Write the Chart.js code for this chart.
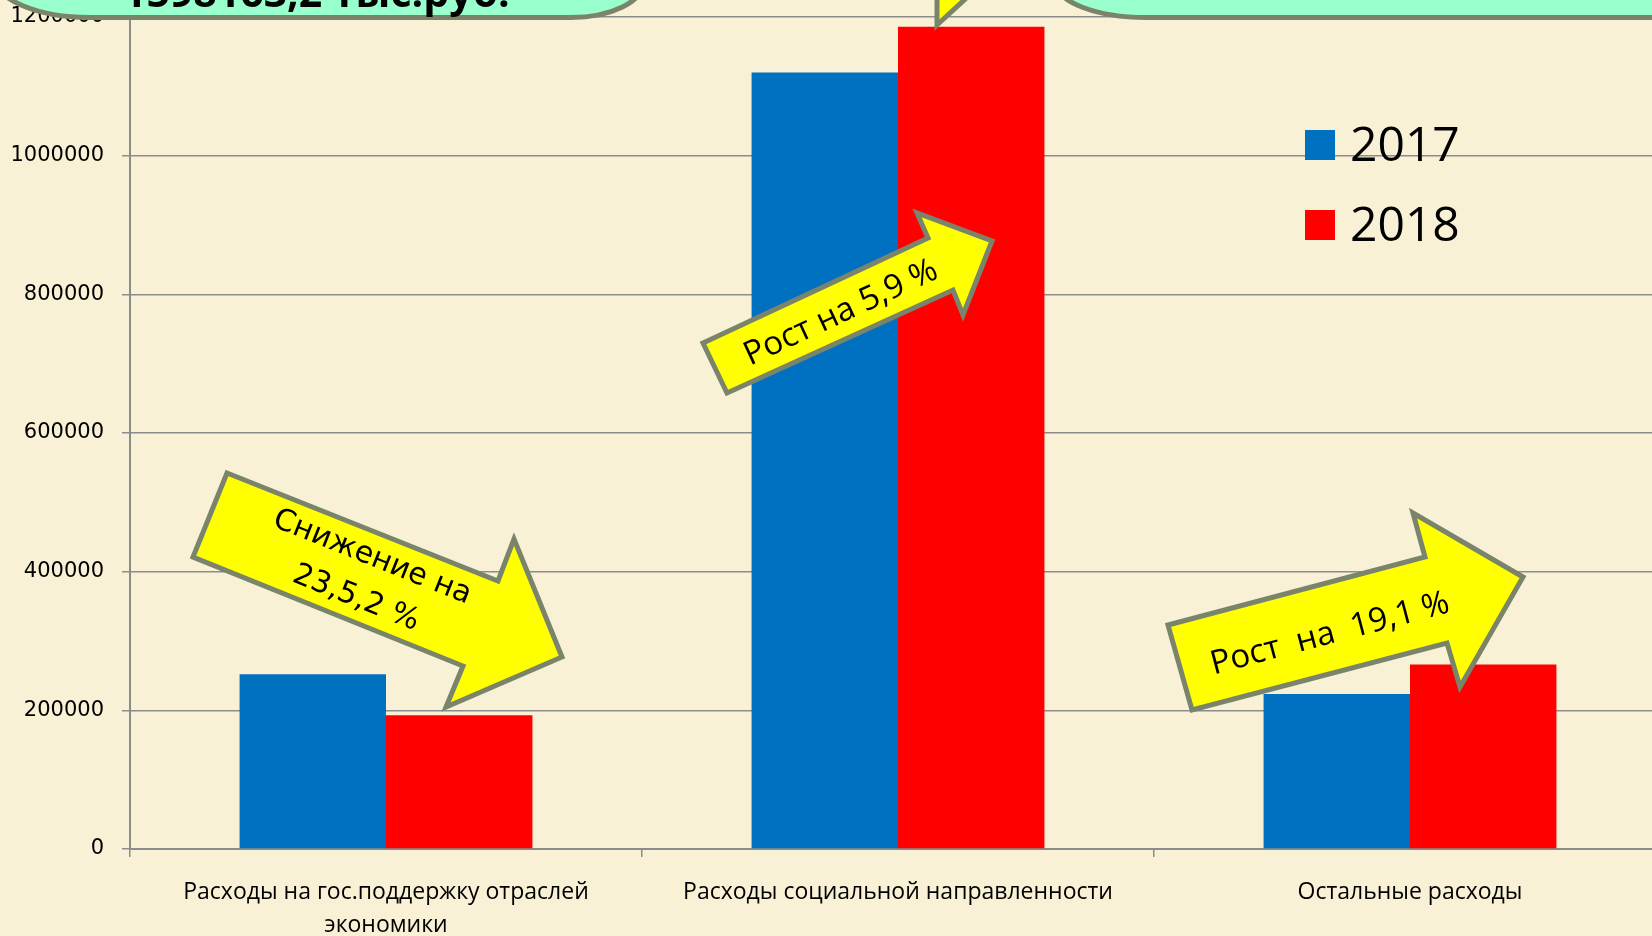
<!DOCTYPE html>
<html><head><meta charset="utf-8">
<script src="https://cdn.jsdelivr.net/npm/chart.js@4.4.0/dist/chart.umd.min.js"></script>
<style>
html,body{margin:0;padding:0;overflow:hidden;background:#f9f1d6;}
#wrap{position:absolute;left:0;top:0;width:1680px;height:936px;}
</style></head><body>
<div id="wrap"><canvas id="c" width="1680" height="936" style="width:1680px;height:936px"></canvas></div>
<script>
// ---- data ----
const categories = [["Расходы на гос.поддержку отраслей", "экономики"], "Расходы социальной направленности", "Остальные расходы"];
const seriesNames = ["2017", "2018"];
const values2017 = [252000, 1120000, 223500];
const values2018 = [192800, 1186000, 266200];
const yTickMin = 0, yTickMax = 1200000, yTickStep = 200000;
const arrowTexts = [["Снижение на", "23,5,2 %"], ["Рост на 5,9 %"], ["Рост  на  19,1 %"]];
const calloutText = "1598163,2 тыс.руб.";

// ---- styles ----
const BG = '#f9f1d6', GRID = '#8c8c8c', BLUE = '#0070c0', RED = '#ff0000';
const ARROW_FILL = '#ffff00', OUTLINE = '#7a846b', BOX_FILL = '#99ffcc';

const bgPlugin = {
  id: 'bg',
  beforeDraw(chart) {
    const ctx = chart.ctx;
    ctx.save(); ctx.fillStyle = BG; ctx.fillRect(0, 0, chart.width, chart.height); ctx.restore();
  }
};

function poly(ctx, pts) {
  ctx.beginPath();
  ctx.moveTo(pts[0][0], pts[0][1]);
  for (let i = 1; i < pts.length; i++) ctx.lineTo(pts[i][0], pts[i][1]);
  ctx.closePath();
  ctx.fillStyle = ARROW_FILL; ctx.fill();
  ctx.lineWidth = 5; ctx.strokeStyle = OUTLINE; ctx.lineJoin = 'miter'; ctx.stroke();
}
function rotText(ctx, lines, cx, cy, deg, font, lh) {
  ctx.save();
  ctx.translate(cx, cy); ctx.rotate(deg * Math.PI / 180);
  ctx.font = font; ctx.fillStyle = '#000'; ctx.textAlign = 'center'; ctx.textBaseline = 'middle';
  const n = lines.length;
  lines.forEach((t, i) => ctx.fillText(t, 0, (i - (n - 1) / 2) * lh));
  ctx.restore();
}

const arrowsPlugin = {
  id: 'arrows',
  afterDatasetsDraw(chart) {
    const ctx = chart.ctx;
    ctx.save();
    poly(ctx, [[227,473],[498,581],[514,539],[562,657],[446,707],[463,666],[193,557]]);
    rotText(ctx, arrowTexts[0], 364, 578, 21.8, '30px "DejaVu Sans"', 44);
    poly(ctx, [[703,343],[928,238],[917,213],[992,241],[963,315],[953,290],[727,393]]);
    rotText(ctx, arrowTexts[1], 841, 313, -25, '33px "Open Sans"', 40);
    poly(ctx, [[1168,625],[1425,557],[1413,513],[1523,577],[1460,687],[1447,643],[1192,710]]);
    rotText(ctx, arrowTexts[2], 1330, 634, -14.8, '33px "Open Sans"', 40);
    ctx.restore();
  },
  afterDraw(chart) {
    const ctx = chart.ctx;
    ctx.save();
    poly(ctx, [[937,25],[999,-32],[937,-32]]);
    // left callout box
    ctx.beginPath();
    ctx.moveTo(-20, -80);
    ctx.lineTo(-5, -22.5);
    ctx.ellipse(90, -22.5, 95, 40, 0, Math.PI, Math.PI / 2, true);
    ctx.lineTo(571, 17.5);
    ctx.ellipse(571, -17.5, 72, 35, 0, Math.PI / 2, 0, true);
    ctx.lineTo(643, -80);
    ctx.closePath();
    ctx.fillStyle = BOX_FILL; ctx.fill();
    ctx.lineWidth = 5; ctx.strokeStyle = OUTLINE; ctx.stroke();
    ctx.font = 'bold 41px "Open Sans"'; ctx.fillStyle = '#000'; ctx.textAlign = 'left'; ctx.textBaseline = 'alphabetic';
    ctx.fillText(calloutText, 123, 7);
    // right callout box
    ctx.beginPath();
    ctx.moveTo(1056, -80);
    ctx.lineTo(1056, -17.5);
    ctx.ellipse(1146, -17.5, 90, 35, 0, Math.PI, Math.PI / 2, true);
    ctx.lineTo(1700, 17.5);
    ctx.lineTo(1700, -80);
    ctx.closePath();
    ctx.fillStyle = BOX_FILL; ctx.fill();
    ctx.lineWidth = 5; ctx.strokeStyle = OUTLINE; ctx.stroke();
    // legend
    ctx.font = '48px "Open Sans"'; ctx.textAlign = 'left'; ctx.textBaseline = 'alphabetic';
    chart.data.datasets.forEach((ds, i) => {
      ctx.fillStyle = ds.backgroundColor;
      ctx.fillRect(1305, 130 + i * 80, 30, 30);
      ctx.fillStyle = '#000';
      ctx.fillText(ds.label, 1350, 161 + i * 80);
    });
    ctx.restore();
  }
};

new Chart(document.getElementById('c'), {
  type: 'bar',
  data: {
    labels: categories,
    datasets: [
      { label: seriesNames[0], data: values2017, backgroundColor: BLUE },
      { label: seriesNames[1], data: values2018, backgroundColor: RED }
    ]
  },
  options: {
    responsive: false,
    animation: false,
    layout: { padding: { left: 0, right: 14, top: 17, bottom: 0 } },
    datasets: { bar: { categoryPercentage: 0.572, barPercentage: 1.0, borderWidth: 0 } },
    plugins: { legend: { display: false }, tooltip: { enabled: false } },
    scales: {
      x: {
        ticks: { color: '#000', font: { family: 'Open Sans', size: 23, lineHeight: '33px' }, padding: 19, maxRotation: 0, autoSkip: false },
        grid: { drawOnChartArea: false, color: GRID, tickLength: 8, lineWidth: 1.5 },
        border: { color: GRID, width: 2 },
        afterFit(s) { s.height = 87; s.paddingLeft = 0; s.paddingRight = 0; }
      },
      y: {
        min: yTickMin, max: yTickMax,
        ticks: { stepSize: yTickStep, color: '#000', font: { family: 'DejaVu Sans', size: 21 }, padding: 18, callback: v => String(v) },
        grid: { color: GRID, lineWidth: 1.5, tickLength: 8 },
        border: { color: GRID, width: 2 },
        afterFit(s) { s.width = 130; s.paddingTop = 0; s.paddingBottom = 0; }
      }
    }
  },
  plugins: [bgPlugin, arrowsPlugin]
});
</script>
</body></html>
